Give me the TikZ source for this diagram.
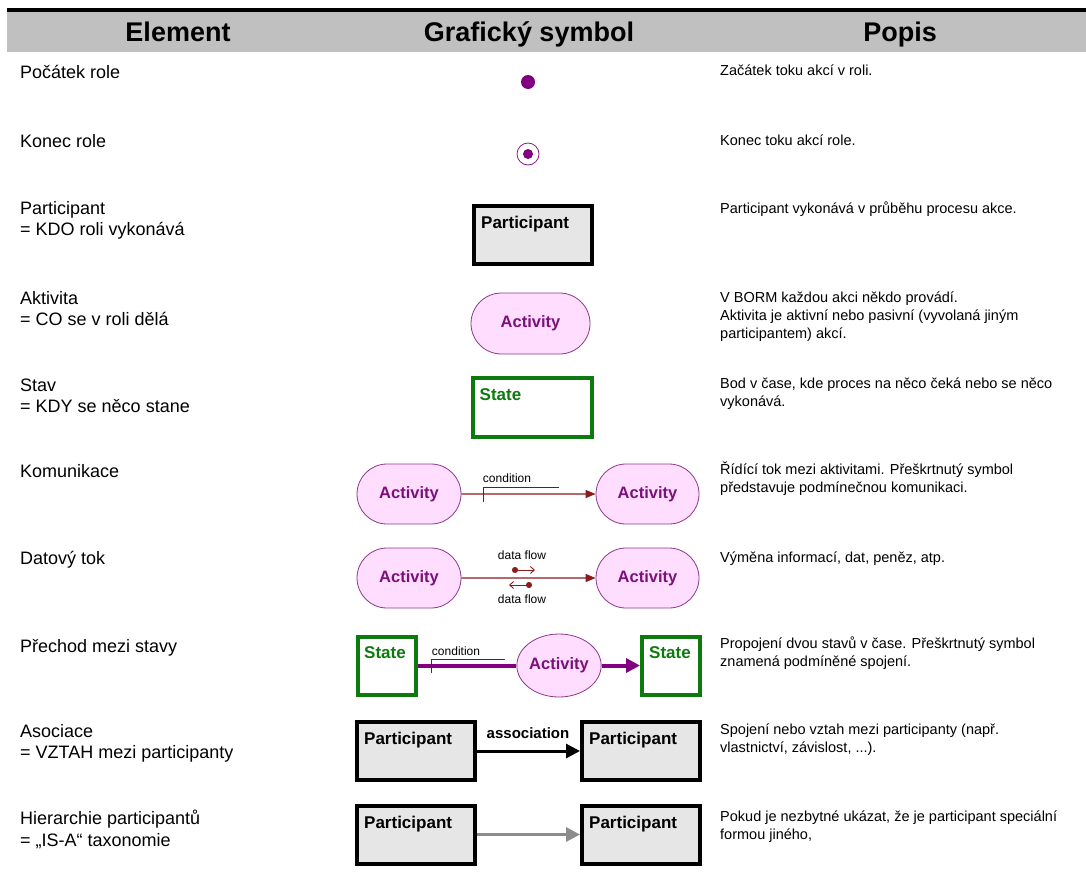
\documentclass[tikz,border=0pt]{standalone}
\usepackage{fontspec}
\setmainfont{Liberation Sans}
\usetikzlibrary{arrows.meta,shapes.misc,shapes.geometric}

\definecolor{bpurple}{HTML}{800080}
\definecolor{actfill}{HTML}{FFDDFF}
\definecolor{actdraw}{HTML}{8A3A8A}
\definecolor{acttext}{HTML}{7A107A}
\definecolor{stgreen}{HTML}{0C7A0C}
\definecolor{flowred}{HTML}{8B1C1C}
\definecolor{partfill}{HTML}{E6E6E6}
\definecolor{headgray}{HTML}{C0C0C0}
\definecolor{isagray}{HTML}{8C8C8C}

\newcommand{\fsz}[1]{\fontsize{#1}{#1}\selectfont}

\tikzset{
  headtxt/.style={anchor=base, font={\fsz{27}\bfseries}, inner sep=0},
  lefttxt/.style={anchor=base west, font={\fsz{18}}, inner sep=0},
  righttxt/.style={anchor=base west, font={\fsz{14.5}}, inner sep=0},
  partbox/.style={draw=black, line width=4pt, fill=partfill, rectangle,
    minimum width=118pt, minimum height=58pt, inner sep=0},
  partlbl/.style={anchor=north west, font={\fsz{17}\bfseries}, inner sep=0, xshift=9pt, yshift=-12pt},
  actbox/.style={draw=actdraw, line width=0.8pt, fill=actfill, rounded rectangle,
    minimum width=104pt, minimum height=60pt, inner sep=0,
    font={\fsz{16.5}\bfseries}, text=acttext},
  stbox/.style={draw=stgreen, line width=4pt, fill=white, rectangle,
    minimum width=119pt, minimum height=59pt, inner sep=0},
  stlbl/.style={anchor=north west, font={\fsz{17}\bfseries}, text=stgreen, inner sep=0, xshift=9pt, yshift=-12pt},
  smalltxt/.style={anchor=base, font={\fsz{12}}, inner sep=0},
  ctrlflow/.style={draw=flowred, line width=1.4pt, -{Triangle[length=10pt,width=8pt]}},
  transflow/.style={draw=bpurple, line width=4pt},
  condmark/.style={draw=black!80, line width=0.9pt},
}

\begin{document}
\begin{tikzpicture}[x=1pt, y=-1pt]
\useasboundingbox (0,0) rectangle (1086,881);

% table header
\fill[headgray] (7,11) rectangle (1086,52);
\draw[line width=3.5pt] (7,10) -- (1086,10);
\node[headtxt] (h1) at (178,41) {Element};
\node[headtxt] (h2) at (529,41) {Grafický symbol};
\node[headtxt] (h3) at (900,41) {Popis};

% element names
\node[lefttxt] (e1) at (20,78) {Počátek role};
\node[lefttxt] (e2) at (20,147) {Konec role};
\node[lefttxt] (e3a) at (20,214) {Participant};
\node[lefttxt] (e3b) at (20,235) {= KDO roli vykonává};
\node[lefttxt] (e4a) at (20,304) {Aktivita};
\node[lefttxt] (e4b) at (20,325) {= CO se v roli dělá};
\node[lefttxt] (e5a) at (20,391) {Stav};
\node[lefttxt] (e5b) at (20,412) {= KDY se něco stane};
\node[lefttxt] (e6) at (20,477) {Komunikace};
\node[lefttxt] (e7) at (20,564) {Datový tok};
\node[lefttxt] (e8) at (20,652) {Přechod mezi stavy};
\node[lefttxt] (e9a) at (20,737) {Asociace};
\node[lefttxt] (e9b) at (20,758) {= VZTAH mezi participanty};
\node[lefttxt] (e10a) at (20,824) {Hierarchie participantů};
\node[lefttxt] (e10b) at (20,846) {= „IS-A“ taxonomie};

% descriptions
\node[righttxt] (d1) at (720,75) {Začátek toku akcí v roli.};
\node[righttxt] (d2) at (720,145) {Konec toku akcí role.};
\node[righttxt] (d3) at (720,213) {Participant vykonává v průběhu procesu akce.};
\node[righttxt] (d4a) at (720,302) {V BORM každou akci někdo provádí.};
\node[righttxt] (d4b) at (720,320) {Aktivita je aktivní nebo pasivní (vyvolaná jiným};
\node[righttxt] (d4c) at (720,338) {participantem) akcí.};
\node[righttxt] (d5a) at (720,388) {Bod v čase, kde proces na něco čeká nebo se něco};
\node[righttxt] (d5b) at (720,406) {vykonává.};
\node[righttxt] (d6a) at (720,474) {Řídící tok mezi aktivitami. Přeškrtnutý symbol};
\node[righttxt] (d6b) at (720,492) {představuje podmínečnou komunikaci.};
\node[righttxt] (d7) at (720,562) {Výměna informací, dat, peněz, atp.};
\node[righttxt] (d8a) at (720,648) {Propojení dvou stavů v čase. Přeškrtnutý symbol};
\node[righttxt] (d8b) at (720,666) {znamená podmíněné spojení.};
\node[righttxt] (d9a) at (720,734) {Spojení nebo vztah mezi participanty (např.};
\node[righttxt] (d9b) at (720,752) {vlastnictví, závislost, ...).};
\node[righttxt] (d10a) at (720,821) {Pokud je nezbytné ukázat, že je participant speciální};
\node[righttxt] (d10b) at (720,839) {formou jiného,};

% start and end of a role
\node[circle, fill=bpurple, minimum size=14pt, inner sep=0] (start) at (528,82) {};
\node[circle, draw=bpurple, line width=0.7pt, minimum size=22pt, inner sep=0] (endo) at (528,154) {};
\node[circle, fill=bpurple, minimum size=10pt, inner sep=0] (endi) at (528,154) {};

% participant
\node[partbox] (p0) at (533,235) {};
\node[partlbl] at (p0.north west) {Participant};

% activity
\node[actbox, minimum width=119pt, minimum height=61pt] (a0) at (530.5,323.5) {Activity};

% state
\node[stbox] (s0) at (532,407.5) {};
\node[stlbl] at (s0.north west) {State};

% communication
\node[actbox] (ca) at (409,494) {Activity};
\node[actbox, minimum width=103pt] (cb) at (647.5,494) {Activity};
\draw[ctrlflow] (ca) -- (cb);
\coordinate (ck) at (483,487);
\draw[condmark] (483,502) -- (ck) -- (559,487);
\node[smalltxt] (cl) at (507,482) {condition};

% data flow
\node[actbox] (da) at (409,578) {Activity};
\node[actbox, minimum width=103pt] (db) at (647.5,578) {Activity};
\draw[ctrlflow] (da) -- (db);
\node[smalltxt] (dl1) at (522,559) {data flow};
\node[smalltxt] (dl2) at (522,603) {data flow};
\coordinate (df1a) at (512,570);
\coordinate (df1b) at (535,570);
\coordinate (df2a) at (532,585);
\coordinate (df2b) at (509,585);
\draw[flowred, line width=0.9pt, {Circle[length=6pt]}-{Straight Barb[length=4pt,width=7pt]}] (df1a) -- (df1b);
\draw[flowred, line width=0.9pt, {Circle[length=6pt]}-{Straight Barb[length=4pt,width=7pt]}] (df2a) -- (df2b);

% transition between states
\node[stbox, minimum width=58pt, minimum height=58pt] (ts1) at (387,665.5) {};
\node[stlbl, xshift=-1pt] at (ts1.north west) {State};
\node[ellipse, draw=actdraw, line width=0.8pt, fill=actfill, minimum width=74pt,
  minimum height=63pt, inner sep=0, font={\fsz{16.5}\bfseries}, text=acttext] (ta) at (559,665.5) {Activity};
\node[stbox, minimum width=58pt, minimum height=58pt] (ts2) at (671,665.5) {};
\node[stlbl, xshift=0pt] at (ts2.north west) {State};
\draw[transflow] (ts1) -- (ta);
\draw[transflow, -{Triangle[length=14pt,width=14pt]}] (ta) -- (ts2);
\draw[condmark] (431,673) -- (431,659) -- (505,659);
\node[smalltxt] (tl) at (456,655) {condition};

% association
\node[partbox] (as1) at (416,751) {};
\node[partlbl] at (as1.north west) {Participant};
\node[partbox] (as2) at (641,751) {};
\node[partlbl] at (as2.north west) {Participant};
\draw[black, line width=3pt, -{Triangle[length=14pt,width=14pt]}] (as1) -- (as2);
\node[anchor=base, font={\fsz{15}\bfseries}, inner sep=0] (asl) at (528,738) {association};

% hierarchy of participants
\node[partbox] (hi1) at (416,834.5) {};
\node[partlbl] at (hi1.north west) {Participant};
\node[partbox] (hi2) at (641,834.5) {};
\node[partlbl] at (hi2.north west) {Participant};
\draw[isagray, line width=3pt, -{Triangle[length=14pt,width=14pt]}] (hi1) -- (hi2);
\end{tikzpicture}
\end{document}
